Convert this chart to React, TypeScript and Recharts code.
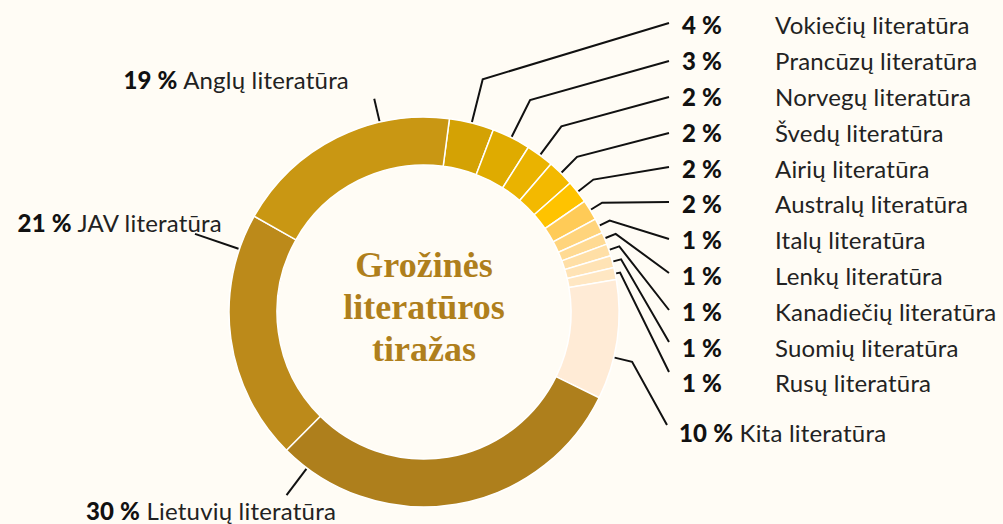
import { Cell, Pie, PieChart } from 'recharts'

const names = [
  'Vokiečių literatūra',
  'Prancūzų literatūra',
  'Norvegų literatūra',
  'Švedų literatūra',
  'Airių literatūra',
  'Australų literatūra',
  'Italų literatūra',
  'Lenkų literatūra',
  'Kanadiečių literatūra',
  'Suomių literatūra',
  'Rusų literatūra',
  'Kita literatūra',
  'Lietuvių literatūra',
  'JAV literatūra',
  'Anglų literatūra',
]

const shares = [3.7, 3.2, 2.3, 2.2, 1.9, 1.7, 1.25, 1.0, 1.0, 1.0, 1.0, 9.9, 30.2, 20.7, 18.9]

const percentLabels = ['4 %', '3 %', '2 %', '2 %', '2 %', '2 %', '1 %', '1 %', '1 %', '1 %', '1 %', '10 %', '30 %', '21 %', '19 %']

const colors = [
  '#D4A204',
  '#DFAB00',
  '#EAB300',
  '#F3B900',
  '#FFC300',
  '#FFCB57',
  '#FFD47C',
  '#FFDA93',
  '#FFDFA6',
  '#FFE3B5',
  '#FFE7C3',
  '#FFEBD6',
  '#AE7F1C',
  '#BC8A1A',
  '#C99713',
]

const data = names.map((name, i) => ({ name, value: shares[i] }))

// leader layout: angle offset (deg, clockwise) from slice middle, knee radius, end point and text placement
type Leader = {
  offset: number
  knee: number
  end?: [number, number]
  text: { x: number; y: number; anchor: 'start' | 'middle' | 'end'; split?: boolean }
}

const rowY = [24, 60, 96, 132, 168, 203, 239, 275, 311, 347, 382]
const endY = [23, 61, 97, 133, 167, 202, 239, 273, 310, 342, 372]

const leaders: Leader[] = [
  { offset: 0, knee: 240 },
  { offset: 0, knee: 237 },
  { offset: 0, knee: 231 },
  { offset: 0, knee: 218 },
  { offset: 0, knee: 215 },
  { offset: 0, knee: 209 },
  { offset: 0, knee: 207 },
  { offset: 0, knee: 207 },
  { offset: 0, knee: 206 },
  { offset: 0, knee: 204 },
  { offset: 0, knee: 200 },
].map((l, i) => ({
  ...l,
  end: [669, endY[i]] as [number, number],
  text: { x: 722, y: rowY[i], anchor: 'end' as const, split: true },
}))

leaders.push(
  { offset: 5.2, knee: 214, end: [667, 425], text: { x: 679, y: 432, anchor: 'start' } },
  { offset: 46.4, knee: 229, text: { x: 211, y: 510, anchor: 'middle' } },
  { offset: 26.7, knee: 242, text: { x: 222, y: 222, anchor: 'end' } },
  { offset: 13.4, knee: 219, text: { x: 349, y: 79, anchor: 'end' } },
)

const RAD = Math.PI / 180
const FONT = 'Lato, "Noto Sans", sans-serif'
const SIZE = 24
const SPACING = 0.2

function polar(cx: number, cy: number, r: number, angle: number) {
  return [cx + Math.cos(-angle * RAD) * r, cy + Math.sin(-angle * RAD) * r]
}

function renderLabel(props: any) {
  const { cx, cy, midAngle, outerRadius, index } = props
  const l = leaders[index]
  const angle = midAngle - l.offset
  const pts = [polar(cx, cy, outerRadius + 1, angle), polar(cx, cy, l.knee, angle)]
  if (l.end) pts.push(l.end)
  const t = l.text
  return (
    <g key={`lbl-${index}`}>
      <polyline
        points={pts.map((p) => p.join(',')).join(' ')}
        fill="none"
        stroke="#111"
        strokeWidth={2}
      />
      {t.split ? (
        <>
          <text x={t.x} y={t.y} textAnchor="end" dominantBaseline="central" fontFamily={FONT} fontSize={SIZE} fontWeight={900} letterSpacing={SPACING} fill="#111">
            {percentLabels[index]}
          </text>
          <text x={775} y={t.y} textAnchor="start" dominantBaseline="central" fontFamily={FONT} fontSize={SIZE} letterSpacing={SPACING} fill="#222">
            {names[index]}
          </text>
        </>
      ) : (
        <text x={t.x} y={t.y} textAnchor={t.anchor} dominantBaseline="central" fontFamily={FONT} fontSize={SIZE} letterSpacing={SPACING} fill="#222">
          <tspan fontWeight={900} fill="#111">{percentLabels[index]}</tspan>
          <tspan> {names[index]}</tspan>
        </text>
      )}
    </g>
  )
}

export default function App() {
  return (
    <div
      style={{
        position: 'absolute',
        left: 0,
        top: 0,
        width: 1003,
        height: 524,
        background: '#FFFCF5',
        overflow: 'hidden',
      }}
    >
      <PieChart width={1003} height={524} margin={{ top: 0, right: 0, bottom: 0, left: 0 }}>
        <Pie
          data={data}
          dataKey="value"
          nameKey="name"
          cx={424}
          cy={312}
          innerRadius={147}
          outerRadius={195}
          startAngle={82.5}
          endAngle={-277.5}
          stroke="#FFFFFF"
          strokeWidth={1.5}
          label={renderLabel}
          labelLine={false}
          isAnimationActive={false}
        >
          {data.map((d, i) => (
            <Cell key={d.name} fill={colors[i]} />
          ))}
        </Pie>
      </PieChart>
      <div
        style={{
          position: 'absolute',
          left: 274,
          width: 300,
          top: 244,
          textAlign: 'center',
          fontFamily: '"Liberation Serif", "DejaVu Serif", serif',
          fontWeight: 700,
          fontSize: 36,
          lineHeight: '42px',
          color: '#AF7F1C',
        }}
      >
        Grožinės
        <br />
        literatūros
        <br />
        tiražas
      </div>
    </div>
  )
}
